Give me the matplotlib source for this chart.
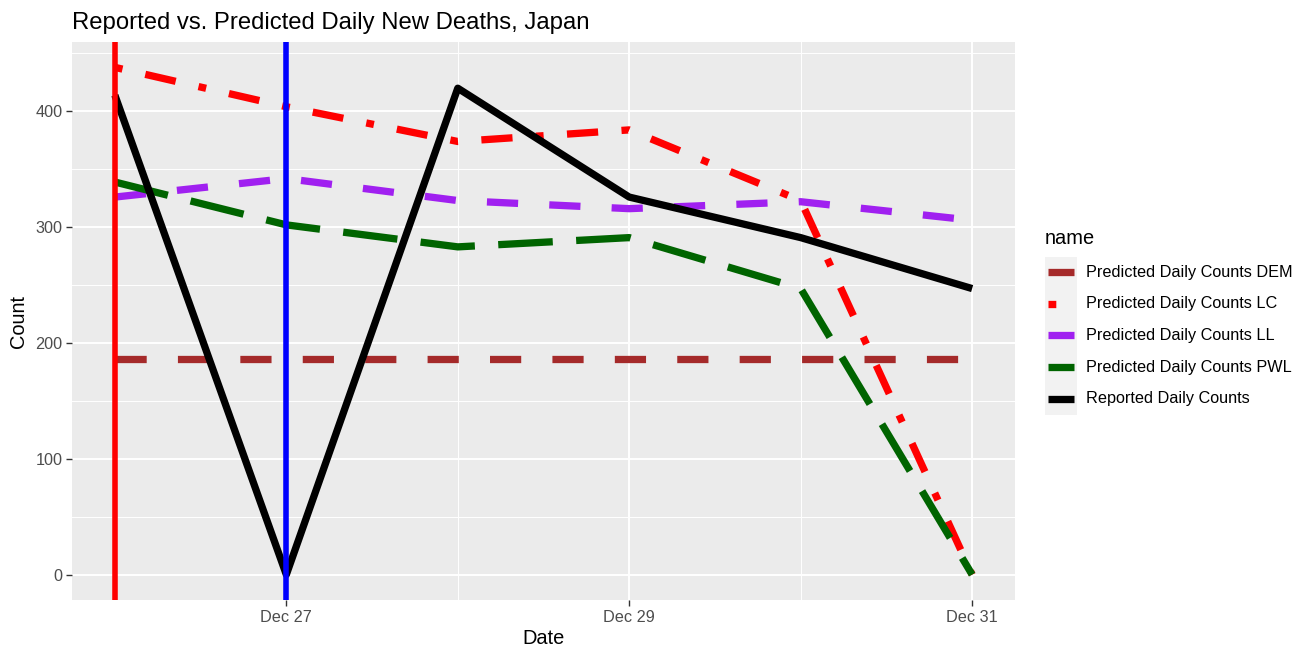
import matplotlib
matplotlib.use("Agg")
import matplotlib.pyplot as plt
import matplotlib.dates as mdates
from matplotlib.lines import Line2D
from matplotlib.patches import Rectangle
import pandas as pd

plt.rcParams['font.family'] = ['Liberation Sans', 'DejaVu Sans']

# ---- data ----
dates = ["2020-12-26", "2020-12-27", "2020-12-28", "2020-12-29", "2020-12-30", "2020-12-31"]
pred_dem = [186, 186, 186, 186, 186, 186]
pred_lc = [438, 404, 374, 384, 323, 0]
pred_ll = [326, 342, 323, 316, 322, 306]
pred_pwl = [339, 302, 283, 291, 247, 0]
reported = [414, 0, 420, 326, 291, 247]
series_names = ["Predicted Daily Counts DEM", "Predicted Daily Counts LC",
                "Predicted Daily Counts LL", "Predicted Daily Counts PWL",
                "Reported Daily Counts"]
vline_dates = ["2020-12-26", "2020-12-27"]
y_ticks = [0, 100, 200, 300, 400]
x_tick_dates = ["2020-12-27", "2020-12-29", "2020-12-31"]
x_minor_dates = ["2020-12-26", "2020-12-28", "2020-12-30"]

x = pd.to_datetime(dates)
series = [pred_dem, pred_lc, pred_ll, pred_pwl, reported]
colors = ["#A52A2A", "#FF0000", "#A020F0", "#006400", "#000000"]
# dash patterns in multiples of the line width (dashed, dotdash, dashed, longdash, solid)
k = 1.07
styles = [(0, (4 * k, 4 * k)), (0, (1 * k, 3 * k, 4 * k, 3 * k)), (0, (4 * k, 4 * k)),
          (0, (7 * k, 3 * k)), "solid"]
LW = 5.25

W, H = 1309, 648
fig = plt.figure(figsize=(W / 100, H / 100), dpi=100)
ax = fig.add_axes([72 / W, 1 - 600 / H, (1015 - 72) / W, (600 - 42) / H])
ax.set_facecolor("#EBEBEB")
for s in ax.spines.values():
    s.set_visible(False)

for vals, col, ls in zip(series, colors, styles):
    ax.plot(x, vals, color=col, lw=LW, linestyle=ls,
            solid_capstyle="butt", dash_capstyle="butt", solid_joinstyle="round")

vcols = ["#FF0000", "#0000FF"]
for d, c in zip(vline_dates, vcols):
    ax.axvline(pd.Timestamp(d), color=c, lw=4.0, zorder=5)

# limits with ggplot-style 5% expansion
x0, x1 = mdates.date2num(x[0]), mdates.date2num(x[-1])
pad = (x1 - x0) * 0.05
ax.set_xlim(x0 - pad, x1 + pad)
ymax = max(max(s) for s in series)
ax.set_ylim(-0.05 * ymax, ymax * 1.05)

ax.set_yticks(y_ticks)
ax.set_yticks([50, 150, 250, 350, 450], minor=True)
ax.set_xticks(pd.to_datetime(x_tick_dates))
ax.set_xticks(pd.to_datetime(x_minor_dates), minor=True)
ax.xaxis.set_major_formatter(mdates.DateFormatter("%b %d"))
ax.grid(True, which="major", color="white", lw=1.4)
ax.grid(True, which="minor", color="white", lw=0.7)
ax.set_axisbelow(True)
ax.tick_params(which="major", length=4, width=1.0, color="#333333",
               labelcolor="#4D4D4D", labelsize=11.7, pad=3)
ax.tick_params(which="minor", length=0)

ax.set_xlabel("Date", fontsize=14.4, labelpad=3)
ax.set_ylabel("Count", fontsize=14.4, labelpad=5)
ax.set_title("Reported vs. Predicted Daily New Deaths, Japan", fontsize=17.2,
             loc="left", pad=9)

# ---- legend drawn in figure pixel coordinates ----
lax = fig.add_axes([0, 0, 1, 1])
lax.set_xlim(0, W)
lax.set_ylim(H, 0)
lax.axis("off")
lax.text(1045, 238, "name", fontsize=14.4, va="center", ha="left")
lax.add_patch(Rectangle((1045, 257), 32, 158, color="#F2F2F2", lw=0))
for i, (name, col, ls) in enumerate(zip(series_names, colors, styles)):
    yy = 272 + i * 31.7
    lax.add_line(Line2D([1048, 1074], [yy, yy], color=col, lw=LW, linestyle=ls,
                        solid_capstyle="butt", dash_capstyle="butt"))
    lax.text(1086, yy, name, fontsize=11.7, va="center", ha="left")

fig.savefig("out.png", dpi=100)
